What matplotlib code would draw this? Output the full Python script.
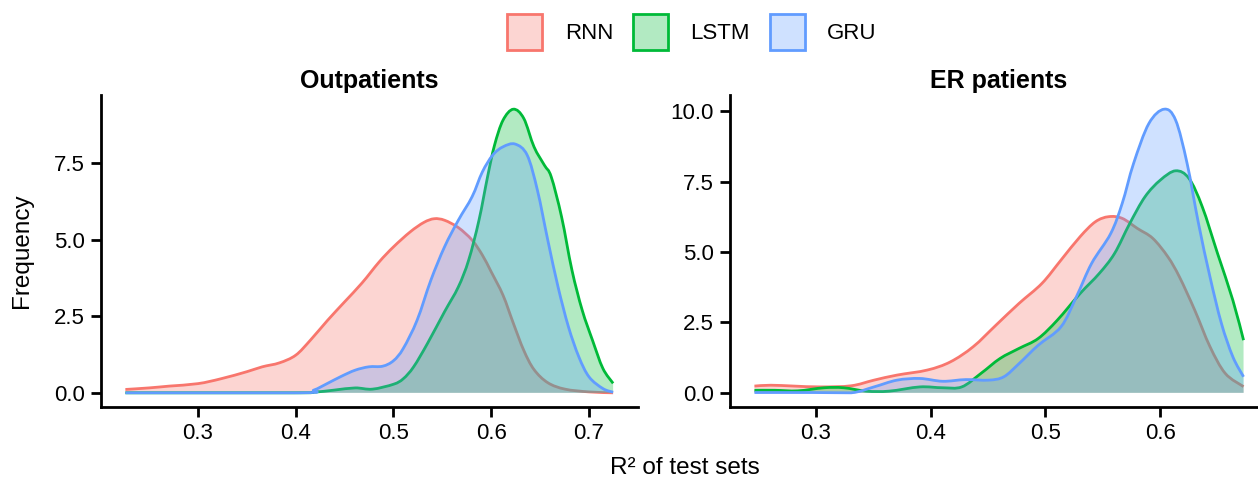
import matplotlib
matplotlib.use("Agg")
import matplotlib.pyplot as plt
from matplotlib.patches import Patch, PathPatch
from matplotlib.path import Path

plt.rcParams['font.family'] = ['Liberation Sans', 'DejaVu Sans']

series_names = ["RNN", "LSTM", "GRU"]
colors = ["#F8766D", "#00BA38", "#619CFF"]
panel_titles = ["Outpatients", "ER patients"]

# ---- Outpatients ----
out_rnn_x = [0.2258, 0.2497, 0.2708, 0.30, 0.3236, 0.35, 0.3658, 0.3834, 0.40, 0.4150, 0.4326, 0.4499,
             0.4678, 0.4854, 0.50, 0.5171, 0.5311, 0.5417, 0.5522, 0.5663, 0.5804, 0.5909, 0.60, 0.6120,
             0.6226, 0.6332, 0.6437, 0.6578, 0.6754, 0.70, 0.7246]
out_rnn_y = [0.11, 0.16, 0.22, 0.30, 0.46, 0.69, 0.85, 0.98, 1.23, 1.72, 2.37, 2.97,
             3.59, 4.28, 4.77, 5.26, 5.57, 5.69, 5.64, 5.40, 4.99, 4.50, 3.95, 3.19,
             2.27, 1.39, 0.76, 0.33, 0.12, 0.03, 0.0]

out_lstm_x = [0.2258, 0.3974, 0.4186, 0.4397, 0.4608, 0.4784, 0.50, 0.51, 0.5206, 0.5347, 0.5522, 0.5663,
              0.5769, 0.5874, 0.5962, 0.6033, 0.6120, 0.6226, 0.6332, 0.6437, 0.6543, 0.6613, 0.6719,
              0.6825, 0.6930, 0.7035, 0.7141, 0.7246]
out_lstm_y = [0.0, 0.0, 0.02, 0.09, 0.16, 0.12, 0.28, 0.46, 0.85, 1.61, 2.65, 3.46,
              4.34, 5.64, 7.06, 8.09, 8.91, 9.27, 8.97, 8.04, 7.44, 7.06, 5.75,
              4.01, 2.70, 1.72, 0.80, 0.31]

out_gru_x = [0.2258, 0.4045, 0.4186, 0.4326, 0.4467, 0.4608, 0.4748, 0.4889, 0.50, 0.51, 0.5241, 0.5382,
             0.5522, 0.5663, 0.5804, 0.5909, 0.6015, 0.6120, 0.6244, 0.6367, 0.6472, 0.6578, 0.6683,
             0.6789, 0.6895, 0.70, 0.7141, 0.7246]
out_gru_y = [0.0, 0.0, 0.09, 0.31, 0.54, 0.74, 0.85, 0.87, 1.05, 1.45, 2.37, 3.68,
             4.77, 5.64, 6.41, 7.22, 7.77, 8.04, 8.13, 7.77, 6.62, 4.99, 3.46,
             2.16, 1.18, 0.52, 0.14, 0.02]

# ---- ER patients ----
er_rnn_x = [0.2468, 0.2611, 0.2811, 0.3043, 0.3309, 0.3508, 0.3708, 0.3973, 0.4173, 0.4372, 0.4571, 0.4771,
            0.4970, 0.5136, 0.5302, 0.5435, 0.5551, 0.5668, 0.5801, 0.5934, 0.6066, 0.6166, 0.6299,
            0.6432, 0.6565, 0.6724]
er_rnn_y = [0.24, 0.27, 0.24, 0.21, 0.25, 0.45, 0.63, 0.81, 1.10, 1.64, 2.41, 3.18,
            3.89, 4.72, 5.55, 6.08, 6.26, 6.20, 5.84, 5.49, 4.83, 4.12, 2.94,
            1.64, 0.69, 0.22]

er_lstm_x = [0.2468, 0.2645, 0.2844, 0.3076, 0.3243, 0.3442, 0.3641, 0.3907, 0.4106, 0.4272, 0.4439, 0.4605,
             0.4771, 0.4937, 0.5103, 0.5302, 0.5468, 0.5601, 0.5734, 0.5867, 0.60, 0.6133, 0.6249,
             0.6365, 0.6498, 0.6631, 0.6724]
er_lstm_y = [0.09, 0.09, 0.07, 0.18, 0.18, 0.06, 0.06, 0.21, 0.18, 0.21, 0.69, 1.22,
             1.58, 1.93, 2.58, 3.53, 4.24, 4.95, 6.02, 6.97, 7.56, 7.89, 7.62,
             6.61, 4.95, 3.29, 1.87]

er_gru_x = [0.2468, 0.2977, 0.3309, 0.3508, 0.3708, 0.3907, 0.4106, 0.4306, 0.4505, 0.4638, 0.4771, 0.4937,
            0.5136, 0.5269, 0.5402, 0.5568, 0.5668, 0.5767, 0.5900, 0.6033, 0.6133, 0.6233, 0.6332,
            0.6432, 0.6532, 0.6631, 0.6724]
er_gru_y = [0.01, 0.01, 0.0, 0.21, 0.45, 0.51, 0.41, 0.47, 0.45, 0.57, 1.04, 1.69,
            2.35, 3.41, 4.60, 5.66, 6.73, 8.15, 9.57, 10.08, 9.69, 8.15, 6.02,
            4.12, 2.46, 1.28, 0.57]

x_ticks_out = [0.3, 0.4, 0.5, 0.6, 0.7]
x_ticks_er = [0.3, 0.4, 0.5, 0.6]
y_ticks_out = [0.0, 2.5, 5.0, 7.5]
y_ticks_er = [0.0, 2.5, 5.0, 7.5, 10.0]

panels = [
    [(out_rnn_x, out_rnn_y), (out_lstm_x, out_lstm_y), (out_gru_x, out_gru_y)],
    [(er_rnn_x, er_rnn_y), (er_lstm_x, er_lstm_y), (er_gru_x, er_gru_y)],
]


def smooth_path_vertices(xs, ys):
    """Catmull-Rom curve through the read points, expressed as cubic Bezier segments."""
    n = len(xs)
    verts = [(xs[0], ys[0])]
    codes = [Path.MOVETO]
    for i in range(n - 1):
        x0, y0 = (xs[i - 1], ys[i - 1]) if i > 0 else (xs[i], ys[i])
        x1, y1 = xs[i], ys[i]
        x2, y2 = xs[i + 1], ys[i + 1]
        x3, y3 = (xs[i + 2], ys[i + 2]) if i + 2 < n else (xs[i + 1], ys[i + 1])
        c1 = (x1 + (x2 - x0) / 6.0, max(0.0, y1 + (y2 - y0) / 6.0))
        c2 = (x2 - (x3 - x1) / 6.0, max(0.0, y2 - (y3 - y1) / 6.0))
        verts += [c1, c2, (x2, y2)]
        codes += [Path.CURVE4] * 3
    return verts, codes


W, H = 1258, 478
fig = plt.figure(figsize=(W / 100, H / 100), dpi=100)

bottom = (H - 407) / H
top = (H - 95) / H
ax1 = fig.add_axes([101 / W, bottom, (637.5 - 101) / W, top - bottom])
ax2 = fig.add_axes([730 / W, bottom, (1268 - 730) / W, top - bottom])


def expand(lo, hi, f=0.05):
    d = hi - lo
    return lo - f * d, hi + f * d


for ax, data, title, xt, yt in zip([ax1, ax2], panels, panel_titles,
                                   [x_ticks_out, x_ticks_er], [y_ticks_out, y_ticks_er]):
    xmin = min(min(d[0]) for d in data)
    xmax = max(max(d[0]) for d in data)
    ymax = max(max(d[1]) for d in data)
    for (xs, ys), c in zip(data, colors):
        verts, codes = smooth_path_vertices(xs, ys)
        fverts = verts + [(xs[-1], 0.0), (xs[0], 0.0), (xs[0], ys[0])]
        fcodes = codes + [Path.LINETO, Path.LINETO, Path.CLOSEPOLY]
        ax.add_patch(PathPatch(Path(fverts, fcodes),
                               facecolor=matplotlib.colors.to_rgba(c, 0.3), edgecolor="none"))
        ax.add_patch(PathPatch(Path(verts, codes), facecolor="none", edgecolor=c,
                               linewidth=2.0, joinstyle="round", capstyle="butt"))
    ax.set_xlim(*expand(xmin, xmax))
    ax.set_ylim(*expand(0, ymax))
    ax.set_xticks(xt)
    ax.set_xticklabels([f"{v:.1f}" for v in xt])
    ax.set_yticks(yt)
    ax.set_yticklabels([f"{v:.1f}" for v in yt])
    for s in ["top", "right"]:
        ax.spines[s].set_visible(False)
    for s in ["left", "bottom"]:
        ax.spines[s].set_linewidth(2.0)
        ax.spines[s].set_color("black")
        ax.spines[s].set_capstyle("projecting")
    ax.tick_params(axis="both", length=7.5, width=2.0, labelsize=16, pad=4, colors="black")
    ax.set_title(title, fontsize=18, fontweight="bold", pad=5)

fig.text(22 / W, (top + bottom) / 2, "Frequency", rotation=90, ha="center", va="center", fontsize=17.5)
fig.text(684.5 / W, 1 - 474 / H, "R\u00b2 of test sets", ha="center", va="baseline", fontsize=17.5)

handles = []
for c in colors:
    handles.append(Patch(facecolor=matplotlib.colors.to_rgba(c, 0.3), edgecolor=c, linewidth=2))
fig.legend(handles, series_names, loc="center", bbox_to_anchor=(692 / W, 1 - 32 / H), ncol=3,
           frameon=False, fontsize=16, handlelength=1.58, handleheight=2.05,
           handletextpad=1.0, columnspacing=0.9, borderaxespad=0)

fig.savefig("out.png", dpi=100)
